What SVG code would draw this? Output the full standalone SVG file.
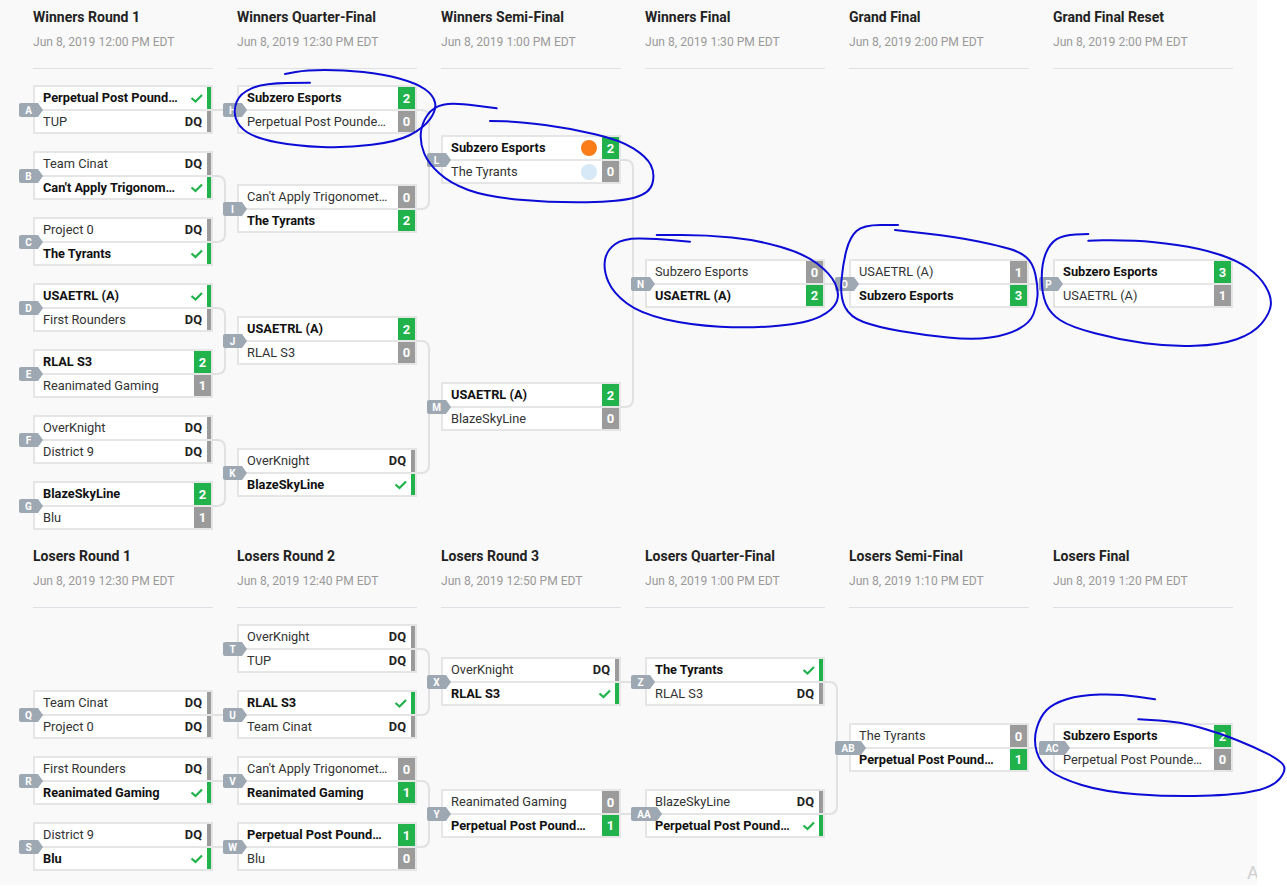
<svg xmlns="http://www.w3.org/2000/svg" xmlns:xlink="http://www.w3.org/1999/xlink" width="1287" height="887" viewBox="0 0 1287 887">
<style>
text{font-family:Roboto,"Liberation Sans",Arial,sans-serif}
.hd{font-size:14px;font-weight:bold;fill:#222}
.dt{font-size:12.1px;fill:#999}
.hl{stroke:#dde1e6;stroke-width:1}
.cn{fill:none;stroke:#e1e1e1;stroke-width:2}
.bx{fill:#e5e5e5}
.rw{fill:#fff}
.t{font-size:12.8px;fill:#333}
.tb{font-size:12.8px;font-weight:bold;fill:#111}
.dq{font-size:12.8px;font-weight:bold;fill:#222;text-anchor:end}
.sc{font-size:13px;font-weight:bold;fill:#fff;text-anchor:middle}
.g{fill:#21b24b}
.k{fill:#9b9b9b}
.ck{fill:none;stroke:#21b24b;stroke-width:2.2}
.bg{fill:#9ea8b3}
.bt{font-size:10px;font-weight:bold;fill:#fff;text-anchor:middle}
.sr{fill:none;stroke:#0c0cd6;stroke-width:2;stroke-linecap:round;stroke-linejoin:round}
</style>
<defs>
<g id="fr"><rect class="bx" width="180" height="49"/><rect class="rw" x="2" y="2" width="176" height="22"/><rect class="rw" x="2" y="26" width="176" height="21"/></g>
<path id="b1" d="M-12 18H5L10 25L5 32H-12Q-14 32 -14 30V20Q-14 18 -12 18Z"/>
<path id="b2" d="M-12 18H12L17 25L12 32H-12Q-14 32 -14 30V20Q-14 18 -12 18Z"/>
<rect id="s1" x="161" y="2" width="17" height="22"/>
<rect id="s2" x="161" y="26" width="17" height="21"/>
<rect id="r1" x="174" y="2" width="4" height="22"/>
<rect id="r2" x="174" y="26" width="4" height="21"/>
<path id="c1" d="M158.5 13L162.5 16.5L169 10"/>
<path id="c2" d="M158.5 36.5L162.5 40L169 33.5"/>
</defs>
<rect width="1287" height="887" fill="#fff"/>
<rect width="1257" height="885" fill="#f9f9f9"/>

<g id="headers">
<text class="hd" x="33" y="22">Winners Round 1</text><text class="dt" x="33" y="46">Jun 8, 2019 12:00 PM EDT</text>
<text class="hd" x="237" y="22">Winners Quarter-Final</text><text class="dt" x="237" y="46">Jun 8, 2019 12:30 PM EDT</text>
<text class="hd" x="441" y="22">Winners Semi-Final</text><text class="dt" x="441" y="46">Jun 8, 2019 1:00 PM EDT</text>
<text class="hd" x="645" y="22">Winners Final</text><text class="dt" x="645" y="46">Jun 8, 2019 1:30 PM EDT</text>
<text class="hd" x="849" y="22">Grand Final</text><text class="dt" x="849" y="46">Jun 8, 2019 2:00 PM EDT</text>
<text class="hd" x="1053" y="22">Grand Final Reset</text><text class="dt" x="1053" y="46">Jun 8, 2019 2:00 PM EDT</text>
<path class="hl" d="M33 68.5H213M237 68.5H417M441 68.5H621M645 68.5H825M849 68.5H1029M1053 68.5H1233"/>
<text class="hd" x="33" y="561">Losers Round 1</text><text class="dt" x="33" y="585">Jun 8, 2019 12:30 PM EDT</text>
<text class="hd" x="237" y="561">Losers Round 2</text><text class="dt" x="237" y="585">Jun 8, 2019 12:40 PM EDT</text>
<text class="hd" x="441" y="561">Losers Round 3</text><text class="dt" x="441" y="585">Jun 8, 2019 12:50 PM EDT</text>
<text class="hd" x="645" y="561">Losers Quarter-Final</text><text class="dt" x="645" y="585">Jun 8, 2019 1:00 PM EDT</text>
<text class="hd" x="849" y="561">Losers Semi-Final</text><text class="dt" x="849" y="585">Jun 8, 2019 1:10 PM EDT</text>
<text class="hd" x="1053" y="561">Losers Final</text><text class="dt" x="1053" y="585">Jun 8, 2019 1:20 PM EDT</text>
<path class="hl" d="M33 607.5H213M237 607.5H417M441 607.5H621M645 607.5H825M849 607.5H1029M1053 607.5H1233"/>
</g>

<g id="connectors">
<path class="cn" d="M213 110H237"/>
<path class="cn" d="M213 176H217Q225 176 225 184V234Q225 242 217 242H213M225 209H237"/>
<path class="cn" d="M213 308H217Q225 308 225 316V366Q225 374 217 374H213M225 341H237"/>
<path class="cn" d="M213 440H217Q225 440 225 448V498Q225 506 217 506H213M225 473H237"/>
<path class="cn" d="M417 110H421Q429 110 429 118V201Q429 209 421 209H417M429 160H441"/>
<path class="cn" d="M417 341H421Q429 341 429 349V465Q429 473 421 473H417M429 407H441"/>
<path class="cn" d="M621 160H625Q633 160 633 168V399Q633 407 625 407H621M633 284H645"/>
<path class="cn" d="M825 284H849"/>
<path class="cn" d="M1029 284H1053"/>
<path class="cn" d="M213 715H237M213 781H237M213 847H237"/>
<path class="cn" d="M417 649H421Q429 649 429 657V707Q429 715 421 715H417M429 682H441"/>
<path class="cn" d="M417 781H421Q429 781 429 789V839Q429 847 421 847H417M429 814H441"/>
<path class="cn" d="M621 682H645M621 814H645"/>
<path class="cn" d="M825 682H829Q837 682 837 690V806Q837 814 829 814H825M837 748H849"/>
<path class="cn" d="M1029 748H1053"/>
</g>

<g id="match-A" transform="translate(33,85)"><use href="#fr"/><use href="#b1" class="bg"/><text class="bt" x="-4.5" y="28.5">A</text>
<text class="tb" x="10" y="17">Perpetual Post Pound…</text><use href="#r1" class="g"/><use href="#c1" class="ck"/>
<text class="t" x="10" y="41">TUP</text><use href="#r2" class="k"/><text class="dq" x="169" y="41">DQ</text></g>
<g id="match-B" transform="translate(33,151)"><use href="#fr"/><use href="#b1" class="bg"/><text class="bt" x="-4.5" y="28.5">B</text>
<text class="t" x="10" y="17">Team Cinat</text><use href="#r1" class="k"/><text class="dq" x="169" y="17">DQ</text>
<text class="tb" x="10" y="41">Can't Apply Trigonom…</text><use href="#r2" class="g"/><use href="#c2" class="ck"/></g>
<g id="match-C" transform="translate(33,217)"><use href="#fr"/><use href="#b1" class="bg"/><text class="bt" x="-4.5" y="28.5">C</text>
<text class="t" x="10" y="17">Project 0</text><use href="#r1" class="k"/><text class="dq" x="169" y="17">DQ</text>
<text class="tb" x="10" y="41">The Tyrants</text><use href="#r2" class="g"/><use href="#c2" class="ck"/></g>
<g id="match-D" transform="translate(33,283)"><use href="#fr"/><use href="#b1" class="bg"/><text class="bt" x="-4.5" y="28.5">D</text>
<text class="tb" x="10" y="17">USAETRL (A)</text><use href="#r1" class="g"/><use href="#c1" class="ck"/>
<text class="t" x="10" y="41">First Rounders</text><use href="#r2" class="k"/><text class="dq" x="169" y="41">DQ</text></g>
<g id="match-E" transform="translate(33,349)"><use href="#fr"/><use href="#b1" class="bg"/><text class="bt" x="-4.5" y="28.5">E</text>
<text class="tb" x="10" y="17">RLAL S3</text><use href="#s1" class="g"/><text class="sc" x="169.5" y="18">2</text>
<text class="t" x="10" y="41">Reanimated Gaming</text><use href="#s2" class="k"/><text class="sc" x="169.5" y="41">1</text></g>
<g id="match-F" transform="translate(33,415)"><use href="#fr"/><use href="#b1" class="bg"/><text class="bt" x="-4.5" y="28.5">F</text>
<text class="t" x="10" y="17">OverKnight</text><use href="#r1" class="k"/><text class="dq" x="169" y="17">DQ</text>
<text class="t" x="10" y="41">District 9</text><use href="#r2" class="k"/><text class="dq" x="169" y="41">DQ</text></g>
<g id="match-G" transform="translate(33,481)"><use href="#fr"/><use href="#b1" class="bg"/><text class="bt" x="-4.5" y="28.5">G</text>
<text class="tb" x="10" y="17">BlazeSkyLine</text><use href="#s1" class="g"/><text class="sc" x="169.5" y="18">2</text>
<text class="t" x="10" y="41">Blu</text><use href="#s2" class="k"/><text class="sc" x="169.5" y="41">1</text></g>

<g id="match-H" transform="translate(237,85)"><use href="#fr"/><use href="#b1" class="bg"/><text class="bt" x="-4.5" y="28.5">H</text>
<text class="tb" x="10" y="17">Subzero Esports</text><use href="#s1" class="g"/><text class="sc" x="169.5" y="18">2</text>
<text class="t" x="10" y="41">Perpetual Post Pounde…</text><use href="#s2" class="k"/><text class="sc" x="169.5" y="41">0</text></g>
<g id="match-I" transform="translate(237,184)"><use href="#fr"/><use href="#b1" class="bg"/><text class="bt" x="-4.5" y="28.5">I</text>
<text class="t" x="10" y="17">Can't Apply Trigonomet…</text><use href="#s1" class="k"/><text class="sc" x="169.5" y="18">0</text>
<text class="tb" x="10" y="41">The Tyrants</text><use href="#s2" class="g"/><text class="sc" x="169.5" y="41">2</text></g>
<g id="match-J" transform="translate(237,316)"><use href="#fr"/><use href="#b1" class="bg"/><text class="bt" x="-4.5" y="28.5">J</text>
<text class="tb" x="10" y="17">USAETRL (A)</text><use href="#s1" class="g"/><text class="sc" x="169.5" y="18">2</text>
<text class="t" x="10" y="41">RLAL S3</text><use href="#s2" class="k"/><text class="sc" x="169.5" y="41">0</text></g>
<g id="match-K" transform="translate(237,448)"><use href="#fr"/><use href="#b1" class="bg"/><text class="bt" x="-4.5" y="28.5">K</text>
<text class="t" x="10" y="17">OverKnight</text><use href="#r1" class="k"/><text class="dq" x="169" y="17">DQ</text>
<text class="tb" x="10" y="41">BlazeSkyLine</text><use href="#r2" class="g"/><use href="#c2" class="ck"/></g>

<g id="match-L" transform="translate(441,135)"><use href="#fr"/><use href="#b1" class="bg"/><text class="bt" x="-4.5" y="28.5">L</text>
<text class="tb" x="10" y="17">Subzero Esports</text><circle cx="148" cy="13" r="8" fill="#fa7d1a"/><use href="#s1" class="g"/><text class="sc" x="169.5" y="18">2</text>
<text class="t" x="10" y="41">The Tyrants</text><circle cx="148" cy="37" r="8" fill="#d7e8f7"/><use href="#s2" class="k"/><text class="sc" x="169.5" y="41">0</text></g>
<g id="match-M" transform="translate(441,382)"><use href="#fr"/><use href="#b1" class="bg"/><text class="bt" x="-4.5" y="28.5">M</text>
<text class="tb" x="10" y="17">USAETRL (A)</text><use href="#s1" class="g"/><text class="sc" x="169.5" y="18">2</text>
<text class="t" x="10" y="41">BlazeSkyLine</text><use href="#s2" class="k"/><text class="sc" x="169.5" y="41">0</text></g>

<g id="match-N" transform="translate(645,259)"><use href="#fr"/><use href="#b1" class="bg"/><text class="bt" x="-4.5" y="28.5">N</text>
<text class="t" x="10" y="17">Subzero Esports</text><use href="#s1" class="k"/><text class="sc" x="169.5" y="18">0</text>
<text class="tb" x="10" y="41">USAETRL (A)</text><use href="#s2" class="g"/><text class="sc" x="169.5" y="41">2</text></g>
<g id="match-O" transform="translate(849,259)"><use href="#fr"/><use href="#b1" class="bg"/><text class="bt" x="-4.5" y="28.5">O</text>
<text class="t" x="10" y="17">USAETRL (A)</text><use href="#s1" class="k"/><text class="sc" x="169.5" y="18">1</text>
<text class="tb" x="10" y="41">Subzero Esports</text><use href="#s2" class="g"/><text class="sc" x="169.5" y="41">3</text></g>
<g id="match-P" transform="translate(1053,259)"><use href="#fr"/><use href="#b1" class="bg"/><text class="bt" x="-4.5" y="28.5">P</text>
<text class="tb" x="10" y="17">Subzero Esports</text><use href="#s1" class="g"/><text class="sc" x="169.5" y="18">3</text>
<text class="t" x="10" y="41">USAETRL (A)</text><use href="#s2" class="k"/><text class="sc" x="169.5" y="41">1</text></g>

<g id="match-Q" transform="translate(33,690)"><use href="#fr"/><use href="#b1" class="bg"/><text class="bt" x="-4.5" y="28.5">Q</text>
<text class="t" x="10" y="17">Team Cinat</text><use href="#r1" class="k"/><text class="dq" x="169" y="17">DQ</text>
<text class="t" x="10" y="41">Project 0</text><use href="#r2" class="k"/><text class="dq" x="169" y="41">DQ</text></g>
<g id="match-R" transform="translate(33,756)"><use href="#fr"/><use href="#b1" class="bg"/><text class="bt" x="-4.5" y="28.5">R</text>
<text class="t" x="10" y="17">First Rounders</text><use href="#r1" class="k"/><text class="dq" x="169" y="17">DQ</text>
<text class="tb" x="10" y="41">Reanimated Gaming</text><use href="#r2" class="g"/><use href="#c2" class="ck"/></g>
<g id="match-S" transform="translate(33,822)"><use href="#fr"/><use href="#b1" class="bg"/><text class="bt" x="-4.5" y="28.5">S</text>
<text class="t" x="10" y="17">District 9</text><use href="#r1" class="k"/><text class="dq" x="169" y="17">DQ</text>
<text class="tb" x="10" y="41">Blu</text><use href="#r2" class="g"/><use href="#c2" class="ck"/></g>

<g id="match-T" transform="translate(237,624)"><use href="#fr"/><use href="#b1" class="bg"/><text class="bt" x="-4.5" y="28.5">T</text>
<text class="t" x="10" y="17">OverKnight</text><use href="#r1" class="k"/><text class="dq" x="169" y="17">DQ</text>
<text class="t" x="10" y="41">TUP</text><use href="#r2" class="k"/><text class="dq" x="169" y="41">DQ</text></g>
<g id="match-U" transform="translate(237,690)"><use href="#fr"/><use href="#b1" class="bg"/><text class="bt" x="-4.5" y="28.5">U</text>
<text class="tb" x="10" y="17">RLAL S3</text><use href="#r1" class="g"/><use href="#c1" class="ck"/>
<text class="t" x="10" y="41">Team Cinat</text><use href="#r2" class="k"/><text class="dq" x="169" y="41">DQ</text></g>
<g id="match-V" transform="translate(237,756)"><use href="#fr"/><use href="#b1" class="bg"/><text class="bt" x="-4.5" y="28.5">V</text>
<text class="t" x="10" y="17">Can't Apply Trigonomet…</text><use href="#s1" class="k"/><text class="sc" x="169.5" y="18">0</text>
<text class="tb" x="10" y="41">Reanimated Gaming</text><use href="#s2" class="g"/><text class="sc" x="169.5" y="41">1</text></g>
<g id="match-W" transform="translate(237,822)"><use href="#fr"/><use href="#b1" class="bg"/><text class="bt" x="-4.5" y="28.5">W</text>
<text class="tb" x="10" y="17">Perpetual Post Pound…</text><use href="#s1" class="g"/><text class="sc" x="169.5" y="18">1</text>
<text class="t" x="10" y="41">Blu</text><use href="#s2" class="k"/><text class="sc" x="169.5" y="41">0</text></g>

<g id="match-X" transform="translate(441,657)"><use href="#fr"/><use href="#b1" class="bg"/><text class="bt" x="-4.5" y="28.5">X</text>
<text class="t" x="10" y="17">OverKnight</text><use href="#r1" class="k"/><text class="dq" x="169" y="17">DQ</text>
<text class="tb" x="10" y="41">RLAL S3</text><use href="#r2" class="g"/><use href="#c2" class="ck"/></g>
<g id="match-Y" transform="translate(441,789)"><use href="#fr"/><use href="#b1" class="bg"/><text class="bt" x="-4.5" y="28.5">Y</text>
<text class="t" x="10" y="17">Reanimated Gaming</text><use href="#s1" class="k"/><text class="sc" x="169.5" y="18">0</text>
<text class="tb" x="10" y="41">Perpetual Post Pound…</text><use href="#s2" class="g"/><text class="sc" x="169.5" y="41">1</text></g>

<g id="match-Z" transform="translate(645,657)"><use href="#fr"/><use href="#b1" class="bg"/><text class="bt" x="-4.5" y="28.5">Z</text>
<text class="tb" x="10" y="17">The Tyrants</text><use href="#r1" class="g"/><use href="#c1" class="ck"/>
<text class="t" x="10" y="41">RLAL S3</text><use href="#r2" class="k"/><text class="dq" x="169" y="41">DQ</text></g>
<g id="match-AA" transform="translate(645,789)"><use href="#fr"/><use href="#b2" class="bg"/><text class="bt" x="-1" y="28.5">AA</text>
<text class="t" x="10" y="17">BlazeSkyLine</text><use href="#r1" class="k"/><text class="dq" x="169" y="17">DQ</text>
<text class="tb" x="10" y="41">Perpetual Post Pound…</text><use href="#r2" class="g"/><use href="#c2" class="ck"/></g>

<g id="match-AB" transform="translate(849,723)"><use href="#fr"/><use href="#b2" class="bg"/><text class="bt" x="-1" y="28.5">AB</text>
<text class="t" x="10" y="17">The Tyrants</text><use href="#s1" class="k"/><text class="sc" x="169.5" y="18">0</text>
<text class="tb" x="10" y="41">Perpetual Post Pound…</text><use href="#s2" class="g"/><text class="sc" x="169.5" y="41">1</text></g>
<g id="match-AC" transform="translate(1053,723)"><use href="#fr"/><use href="#b2" class="bg"/><text class="bt" x="-1" y="28.5">AC</text>
<text class="tb" x="10" y="17">Subzero Esports</text><use href="#s1" class="g"/><text class="sc" x="169.5" y="18">2</text>
<text class="t" x="10" y="41">Perpetual Post Pounde…</text><use href="#s2" class="k"/><text class="sc" x="169.5" y="41">0</text></g>

<text x="1247" y="879" font-size="18" fill="#cfcfcf">A</text>
<rect x="1257" y="0" width="30" height="887" fill="#fff"/>

<g id="annotations">
<path class="sr" d="M310,82.7 L286.7,83 Q263.3,83.3 251.7,88.3 Q240,93.3 236.7,101.7 Q233.3,110 235.8,118.3 Q238.3,126.7 247.5,132.5 Q256.7,138.3 276.7,142.2 Q296.7,146 321.7,147 Q346.7,148 371.7,144.8 Q396.7,141.7 410,135 Q423.3,128.3 430,119.2 Q436.7,110 435,102.5 Q433.3,95 425,89.2 Q416.7,83.3 400,78.7 Q383.3,74 363.3,72 Q343.3,70 325,70 Q306.7,70 295.8,72 L285,74"/>
<path class="sr" d="M496.7,108.3 L475,105.5 Q453.3,102.7 443.3,104.7 Q433.3,106.7 427.5,115 Q421.7,123.3 420.8,133.3 Q420,143.3 424.2,153.3 Q428.3,163.3 439.2,173.3 Q450,183.3 468.3,190 Q486.7,196.7 520,199.7 Q553.3,202.7 586.7,202.2 Q620,201.7 635,197.5 Q650,193.3 652.5,183.3 Q655,173.3 650.8,165 Q646.7,156.7 633.3,148.3 Q620,140 595,134.2 Q570,128.3 545,125 Q520,121.7 505,121.3 L490,121"/>
<path class="sr" d="M690,241.7 L673.3,240.2 Q656.7,238.7 640,238.5 Q623.3,238.3 615,244.2 Q606.7,250 605,260 Q603.3,270 608.3,281.7 Q613.3,293.3 626.7,303.3 Q640,313.3 665,319.2 Q690,325 720,326.7 Q750,328.3 778.3,325.8 Q806.7,323.3 820,316.7 Q833.3,310 836.7,301.7 Q840,293.3 835,283.3 Q830,273.3 816.7,263.3 Q803.3,253.3 780,246.7 Q756.7,240 731.7,237.5 Q706.7,235 681.7,235 L656.7,235"/>
<path class="sr" d="M898,225 L880.5,225 Q863,225 856.5,231 Q850,237 846.5,250 Q843,263 841.5,280 Q840,297 845,307 Q850,317 863.5,322 Q877,327 900,331 Q923,335 948,337.5 Q973,340 990,337.5 Q1007,335 1018.5,329 Q1030,323 1033.5,314 Q1037,305 1037.5,296 Q1038,287 1035.5,275 Q1033,263 1026.5,257.5 Q1020,252 1010,249 Q1000,246 978.5,241.5 Q957,237 926,233.5 L895,230"/>
<path class="sr" d="M1088.3,234 L1075.8,234.5 Q1063.3,235 1056.7,239.2 Q1050,243.3 1045.8,253.3 Q1041.7,263.3 1041.7,278.3 Q1041.7,293.3 1045.8,303.3 Q1050,313.3 1060,320 Q1070,326.7 1095,333.3 Q1120,340 1145,343.3 Q1170,346.7 1195,345.8 Q1220,345 1236.7,339.2 Q1253.3,333.3 1261.7,323.3 Q1270,313.3 1270.8,305 Q1271.7,296.7 1265.8,286.7 Q1260,276.7 1248.3,268.3 Q1236.7,260 1218.3,254.2 Q1200,248.3 1176.7,245 Q1153.3,241.7 1135,240.8 Q1116.7,240 1102.5,240.3 L1088.3,240.7"/>
<path class="sr" d="M1155,699.3 L1137.5,696.7 Q1120,694 1100,694.5 Q1080,695 1066.7,699.2 Q1053.3,703.3 1046.7,710 Q1040,716.7 1036.7,728.3 Q1033.3,740 1036.7,751.7 Q1040,763.3 1050,770.8 Q1060,778.3 1081.7,785 Q1103.3,791.7 1136.7,794.2 Q1170,796.7 1203.3,795.8 Q1236.7,795 1255,790.8 Q1273.3,786.7 1280,778.3 Q1286.7,770 1283.3,765 Q1280,760 1266.7,753.3 Q1253.3,746.7 1236.7,740 Q1220,733.3 1200,727.5 Q1180,721.7 1159.2,720.5 L1138.3,719.3"/>
</g>
</svg>
